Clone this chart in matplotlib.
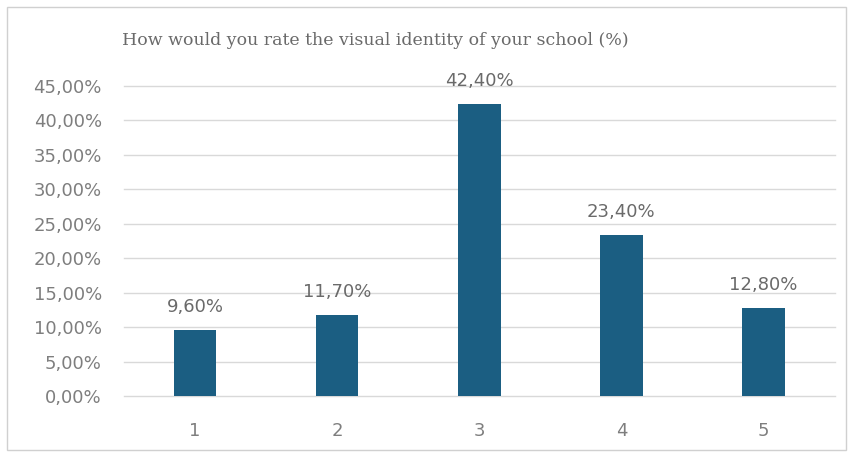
import matplotlib
matplotlib.use("Agg")
import matplotlib.pyplot as plt
from matplotlib.patches import Rectangle

categories = ["1", "2", "3", "4", "5"]
values = [9.60, 11.70, 42.40, 23.40, 12.80]
yticks = [0, 5, 10, 15, 20, 25, 30, 35, 40, 45]
title = "How would you rate the visual identity of your school (%)"

def pct(v):
    return f"{v:.2f}".replace(".", ",") + "%"

fig = plt.figure(figsize=(8.51, 4.55), dpi=100)
fig.patch.set_facecolor("white")
fig.add_artist(Rectangle((0.008, 0.012), 0.986, 0.972, transform=fig.transFigure,
                         fill=False, edgecolor="#d0d0d0", linewidth=1.0))

ax = fig.add_axes([0.1457, 0.1297, 0.835, 0.6813])
x = list(range(len(categories)))
ax.bar(x, values, width=0.30, color="#1b5e82", zorder=3)

label_font = dict(fontsize=13, color="#7e7e7e", family="DejaVu Sans")
ax.set_xlim(-0.5, len(categories) - 0.5)
ax.set_ylim(0, 45)
ax.set_yticks(yticks)
ax.set_yticklabels([pct(t) for t in yticks], **label_font)
ax.set_xticks(x)
ax.set_xticklabels(categories, **label_font)
ax.tick_params(axis="y", length=0, pad=16)
ax.tick_params(axis="x", length=0, pad=19)
ax.grid(axis="y", color="#d9d9d9", linewidth=1.0, zorder=0)
for gl in ax.get_ygridlines():
    gl.set_clip_on(False)
for s in ax.spines.values():
    s.set_visible(False)

for xi, v in zip(x, values):
    ax.annotate(pct(v), (xi, v), xytext=(0, 10), textcoords="offset points",
                ha="center", va="bottom", fontsize=13, color="#6a6a6a",
                family="DejaVu Sans")

fig.text(0.1434, 0.912, title, fontsize=12.5, color="#6a6a6a",
         family="DejaVu Serif", ha="left", va="center")

fig.savefig("out.png", dpi=100, facecolor="white")
